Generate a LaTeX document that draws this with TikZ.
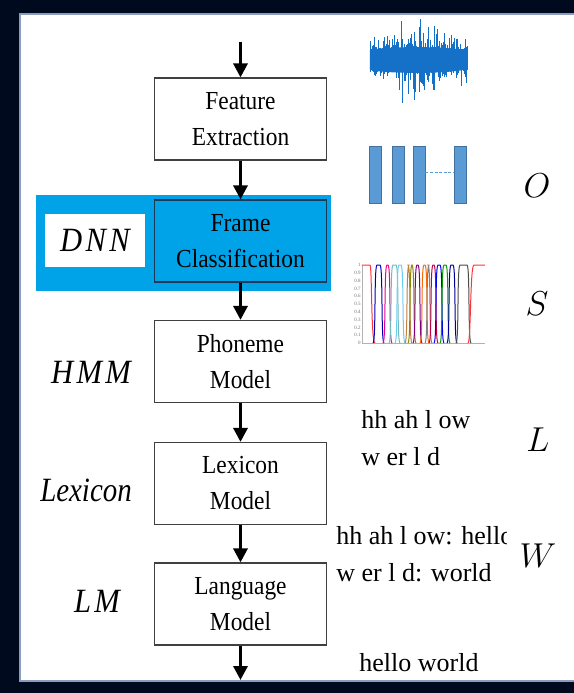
\documentclass[tikz,border=0pt]{standalone}
\usepackage{fontspec}
\setmainfont{Liberation Serif}
\newfontfamily\boxfont{Liberation Serif}[FakeStretch=0.9]
\newfontfamily\lexfont{Liberation Serif}[FakeStretch=0.85]
\newfontfamily\modfont{Liberation Serif}[FakeStretch=0.9, LetterSpace=10]
\usetikzlibrary{arrows.meta, positioning, calc}
\definecolor{navy}{HTML}{000A1E}
\definecolor{panelline}{HTML}{8C9CBF}
\definecolor{dnnblue}{HTML}{00A2E8}
\definecolor{darkedge}{HTML}{1A3A5C}
\definecolor{wave}{HTML}{1570C8}
\definecolor{barfill}{HTML}{5B9BD5}
\definecolor{baredge}{HTML}{41719C}
\tikzset{
    stage/.style={
        rectangle, draw=black!75, fill=white, line width=0.6pt,
        minimum width=86pt, minimum height=41pt, align=center,
        font=\boxfont\fontsize{13}{18}\selectfont
    },
    band/.style={rectangle, fill=dnnblue, inner sep=0pt},
    flow/.style={line width=1.6pt, -{Triangle[length=7pt,width=7pt]}},
    model/.style={font=\modfont\itshape\fontsize{17}{20}\selectfont},
    symb/.style={font=\fontsize{16}{18}\selectfont},
    trans/.style={align=left, anchor=west, inner sep=0pt, font=\fontsize{13}{18.5}\selectfont},
    frame/.style={rectangle, fill=barfill, draw=baredge, line width=0.4pt, minimum width=6pt, minimum height=28.5pt, inner sep=0pt}
}
\begin{document}
\begin{tikzpicture}[x=0.5pt, y=-0.5pt]
    \useasboundingbox (0,0) rectangle (574,693);
    \fill[navy] (0,0) rectangle (574,693);
    \fill[white] (20,14) rectangle (574,681);
    \draw[panelline, line width=1pt] (574,14) -- (20,14) -- (20,681) -- (574,681);

    % pipeline
    \node (band) [band, minimum width=147.5pt, minimum height=48pt] at (183.5,243) {};
    \node (dnnbox) [fill=white, minimum width=50pt, minimum height=26.5pt, inner sep=0pt] at (95,240.5) {};
    \node (fe) [stage] at (240.5,119) {Feature\\Extraction};
    \node (fc) [stage, fill=dnnblue, draw=darkedge] at (240.5,241) {Frame\\Classification};
    \node (pm) [stage] at (240.5,361.5) {Phoneme\\Model};
    \node (lx) [stage] at (240.5,483.5) {Lexicon\\Model};
    \node (lm) [stage] at (240.5,604) {Language\\Model};
    \coordinate (in) at (240.5,42);
    \coordinate (out) at (240.5,680);

    \draw[flow] (in) -- (fe);
    \draw[flow] (fe) -- (fc);
    \draw[flow] (fc) -- (pm);
    \draw[flow] (pm) -- (lx);
    \draw[flow] (lx) -- (lm);
    \draw[flow] (lm) -- (out);

    % models on the left
    \node (dnn) [model] at (dnnbox) {DNN};
    \node (hmm) [model] at (91,372) {HMM};
    \node (lexi) [model, font=\lexfont\itshape\fontsize{17}{18}\selectfont] at (86,490) {Lexicon};
    \node (lmlab) [model] at (97,601) {LM};

    % symbols on the right
    \node (sO) [symb] at (537,186) {$O$};
    \node (sS) [symb] at (537,304) {$S$};
    \node (sL) [symb] at (538,440) {$L$};
    \node (sW) [symb] at (538,556) {$W$};

    % waveform
    \pgfmathsetseed{11}
    \foreach \i in {0,...,97} {
        \pgfmathsetmacro\env{0.35+0.65*sin(\i*1.84)}
        \pgfmathsetmacro\up{9+38*rnd*rnd*\env}
        \pgfmathsetmacro\dn{9+40*rnd*rnd*\env}
        \draw[wave, line width=0.45pt] (370+\i,58-\up) -- (370+\i,60+\dn);
    }
    \fill[wave] (370,50) .. controls (390,46) and (450,46) .. (468,51)
        -- (468,69) .. controls (450,74) and (390,74) .. (370,70) -- cycle;

    % frames
    \node (f1) [frame] at (375.5,174.5) {};
    \node (f2) [frame] at (398,174.5) {};
    \node (f3) [frame] at (419,174.5) {};
    \node (f4) [frame] at (460.5,174.5) {};
    \draw[barfill, line width=0.5pt, dash pattern=on 1.5pt off 0.8pt] (f3.east |- 0,172) -- (f4.west |- 0,172);

    % posteriors
    \draw[black!30, line width=0.3pt] (362,265) -- (362,343) -- (485,343);
    \foreach \v [count=\k from 0] in {1,0.9,0.8,0.7,0.6,0.5,0.4,0.3,0.2,0.1,0} {
        \node (tick\k) [anchor=east, inner sep=0.5pt, text=black!55, font=\fontsize{2.5}{3}\selectfont] at (362,265+7.8*\k) {\v};
    }
    \draw[red!80, line width=0.5pt] (362,265) -- (370,265) .. controls (372,265) and (371,343) .. (375,343);
    \foreach \a/\b/\c in {373/384/blue!70!black, 383/392/magenta, 389/400/teal!55, 395/405/cyan!60,
                          405/412/brown, 408/416/olive, 413/422/violet, 420/429/orange!80!red,
                          425/432/gray, 429/438/purple, 434/444/blue, 440/450/green!60!black,
                          447/457/blue!60!black, 456/471/black!70} {
        \draw[\c, line width=0.5pt] (\a,343) .. controls (\a+3,343) and (\a+1,265) .. (\a+4,265)
            -- (\b-4,265) .. controls (\b-1,265) and (\b-3,343) .. (\b,343);
    }
    \draw[red!80, line width=0.5pt] (468,343) .. controls (471,343) and (470,265) .. (474,265) -- (485,265);

    % transcriptions
    \node (phones) [trans] at (361,438) {hh ah l ow\\w er l d};
    \begin{scope}
        \clip (0,0) rectangle (507,693);
        \node (lexent) [trans] at (336,554) {hh ah l ow: hello\\w er l d: world};
    \end{scope}
    \node (words) [trans] at (359,663) {hello world};
\end{tikzpicture}
\end{document}
